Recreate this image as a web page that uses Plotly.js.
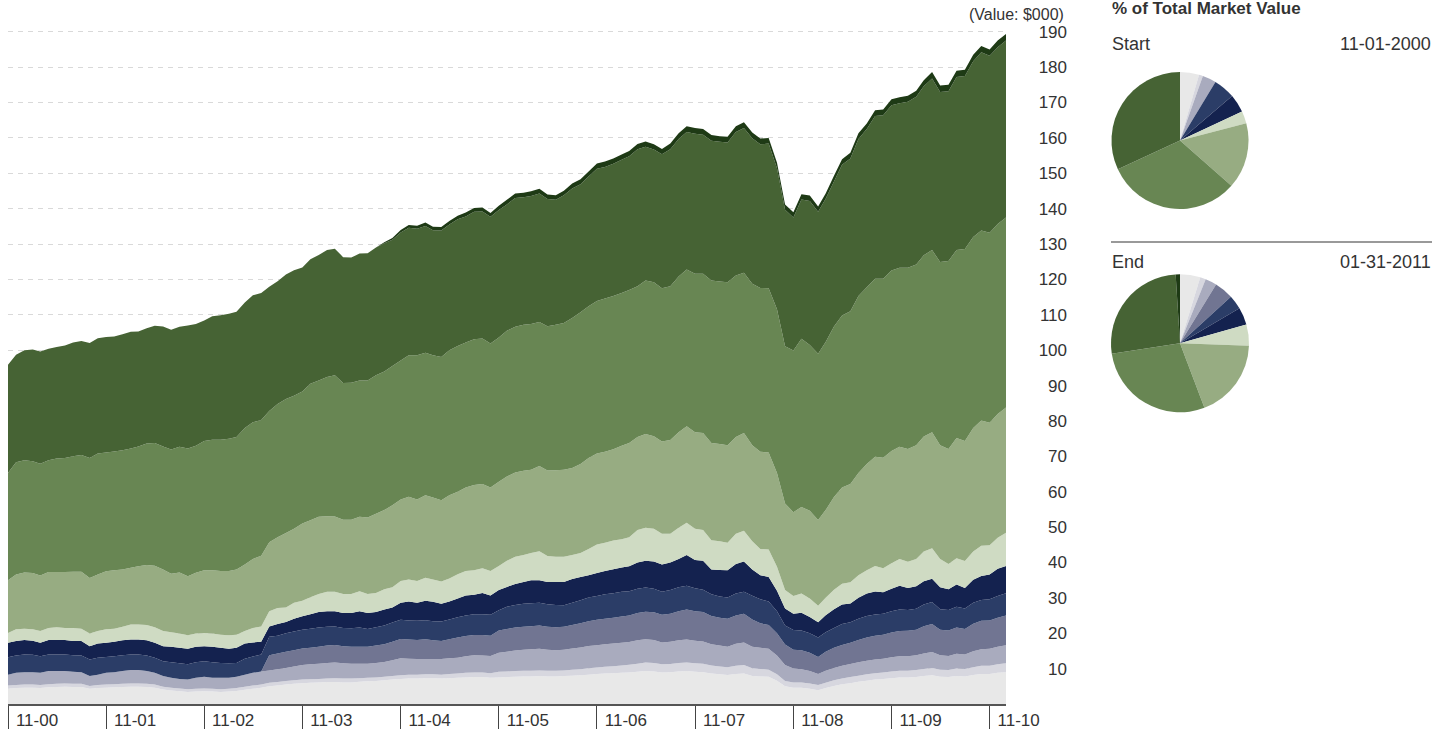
<!DOCTYPE html>
<html>
<head>
<meta charset="utf-8">
<script src="https://cdn.plot.ly/plotly-3.0.1.min.js"></script>
<style>
  html, body { margin: 0; padding: 0; background: #ffffff; }
  #chart { width: 1449px; height: 734px; }
</style>
</head>
<body>
<div id="chart"></div>
<script>
// ---------------- DATA (monthly market value, $000, Nov-2000 .. Jan-2011) ----------------
const startMonth = { year: 2000, month: 11 };
const monthCount = 123;

const tickYears = [2000, 2001, 2002, 2003, 2004, 2005, 2006, 2007, 2008, 2009, 2010];
const yTickValues = [10, 20, 30, 40, 50, 60, 70, 80, 90, 100, 110, 120, 130, 140, 150, 160, 170, 180, 190];

const lightGrey = [
  4.3,4.5,4.6,4.6,4.5,4.7,4.8,4.9,4.8,4.8,
  4.3,4.5,4.6,4.7,4.8,4.9,4.9,4.8,4.6,4.1,
  3.8,3.6,3.4,3.5,3.6,3.5,3.4,3.5,3.7,4.0,
  4.3,4.6,5.0,5.2,5.5,5.7,5.9,6.0,6.1,6.2,
  6.2,6.1,6.1,6.3,6.4,6.5,6.7,6.9,7.1,7.2,
  7.2,7.3,7.3,7.2,7.3,7.4,7.5,7.6,7.6,7.4,
  7.5,7.6,7.7,7.8,7.8,7.9,7.8,7.8,7.9,8.0,
  8.1,8.3,8.5,8.6,8.7,8.8,8.9,9.1,9.3,9.2,
  8.9,9.0,9.2,9.3,9.1,9.0,8.6,8.4,8.2,8.5,
  8.6,7.9,7.8,7.7,6.6,5.0,4.6,4.6,4.3,3.9,
  4.5,5.1,5.6,5.9,6.3,6.6,6.9,7.1,7.3,7.5,
  7.5,7.6,7.9,8.1,7.7,7.6,7.9,7.8,8.2,8.5,
  8.5,8.8,9.0];

const lavender = [
  0.9,0.9,0.9,0.9,0.9,0.9,0.9,0.9,0.9,0.9,
  0.8,0.9,0.9,0.9,0.9,0.9,0.9,0.9,0.9,0.8,
  0.8,0.8,0.8,0.8,0.8,0.8,0.8,0.8,0.8,0.9,
  0.9,0.9,1.0,1.0,1.0,1.0,1.0,1.0,1.0,1.0,
  1.1,1.1,1.1,1.0,1.0,1.0,1.0,1.0,1.0,1.1,
  1.1,1.1,1.1,1.1,1.2,1.2,1.3,1.3,1.3,1.3,
  1.6,1.6,1.6,1.6,1.6,1.6,1.6,1.6,1.6,1.7,
  1.7,1.8,1.8,1.9,2.0,2.1,2.2,2.3,2.4,2.4,
  2.3,2.3,2.4,2.4,2.4,2.4,2.3,2.2,2.2,2.3,
  2.4,2.2,2.1,2.0,1.8,1.5,1.5,1.5,1.5,1.5,
  1.5,1.6,1.6,1.7,1.7,1.8,1.8,1.8,1.9,1.9,
  1.9,2.0,2.0,2.1,2.0,2.0,2.1,2.1,2.2,2.3,
  2.3,2.4,2.5];

const greyBlue = [
  3.1,3.4,3.5,3.5,3.4,3.7,3.6,3.5,3.4,3.3,
  2.8,2.9,3.3,3.4,3.6,3.8,3.8,3.6,3.3,3.0,
  2.8,2.7,2.7,3.1,3.3,3.1,3.2,3.1,3.2,3.4,
  3.6,3.7,3.5,3.6,3.7,3.9,4.1,4.2,4.3,4.4,
  4.4,4.3,4.2,4.1,4.0,4.1,4.2,4.5,4.8,4.5,
  4.4,4.3,4.3,4.4,4.4,4.5,4.7,4.9,4.8,4.9,
  5.4,5.6,5.8,5.9,6.1,6.1,5.9,5.8,5.8,6.0,
  6.2,6.3,6.3,6.4,6.4,6.4,6.4,6.6,6.6,6.5,
  6.2,6.3,6.4,6.5,6.4,6.3,6.0,5.9,5.8,6.2,
  6.4,6.1,6.0,5.9,5.3,4.5,3.9,3.7,3.5,3.1,
  3.4,3.5,3.6,3.7,3.8,3.8,3.9,3.9,4.0,4.1,
  4.1,4.2,4.4,4.5,4.1,4.0,4.2,4.1,4.5,4.7,
  4.8,5.0,5.1];

const slate = [
  0,0,0,0,0,0,0,0,0,0,
  0,0,0,0,0,0,0,0,0,0,
  0,0,0,0,0,0,0,0,0,0,
  0,0,4.3,4.5,4.6,4.6,4.7,4.7,4.8,4.9,
  5.0,4.8,4.8,4.8,4.8,4.9,5.0,5.2,5.5,5.4,
  5.4,5.6,5.3,5.1,5.4,5.7,5.7,5.7,5.8,5.7,
  6.3,6.4,6.5,6.5,6.5,6.6,6.5,6.5,6.5,6.6,
  6.8,7.0,7.2,7.2,7.3,7.4,7.5,7.7,7.8,7.8,
  7.8,7.9,8.2,8.5,8.3,8.3,8.0,7.9,7.9,8.0,
  8.1,7.7,6.9,6.7,6.3,5.8,5.3,5.4,5.2,4.8,
  5.4,5.7,5.9,6.0,6.3,6.6,6.7,6.8,7.0,7.1,
  7.2,7.2,7.7,7.9,7.2,7.2,7.4,7.2,7.8,8.0,
  8.0,8.2,8.4];

const darkBlue = [
  4.9,4.9,5.0,4.9,4.7,4.7,4.7,4.7,4.7,4.7,
  4.7,4.8,4.5,4.5,4.5,4.4,4.4,4.4,4.3,4.2,
  4.4,4.4,4.3,4.4,4.4,4.4,4.2,4.1,3.9,4.5,
  4.6,4.8,5.2,5.0,5.2,5.3,5.3,5.4,5.4,5.3,
  5.2,5.2,5.2,5.4,5.0,5.2,5.3,5.4,5.4,5.4,
  5.4,5.4,5.4,5.5,5.6,5.7,5.8,5.9,5.9,5.9,
  5.7,6.3,6.4,6.5,6.5,6.4,6.4,6.3,6.1,6.3,
  6.5,6.7,6.7,6.9,6.9,7.0,6.9,6.9,6.8,6.7,
  6.5,6.7,6.8,6.7,6.5,6.3,6.1,6.0,6.0,6.2,
  6.2,6.7,6.8,6.7,6.2,5.4,5.6,5.6,5.5,5.5,
  5.5,5.6,5.9,5.8,6.0,6.1,6.0,5.9,6.0,6.1,
  5.9,5.9,6.1,6.2,5.8,5.8,5.9,5.8,5.9,5.9,
  6.0,6.1,6.3];

const navy = [
  4.1,4.1,4.1,4.0,3.8,4.1,4.1,4.1,4.0,4.1,
  3.7,4.0,4.0,4.1,4.2,4.2,4.2,4.3,4.2,4.2,
  4.4,4.4,4.4,4.4,4.2,4.4,4.3,4.1,4.3,4.3,
  4.0,3.6,2.9,3.3,3.2,3.6,3.8,4.1,4.4,4.4,
  4.3,4.2,4.3,4.6,4.5,4.3,4.5,4.3,4.8,5.4,
  5.1,5.5,5.5,5.0,5.1,5.3,5.7,5.5,6.0,5.5,
  5.7,5.6,5.9,6.2,6.5,6.4,6.3,6.5,6.6,6.7,
  6.6,6.3,6.5,6.6,6.8,6.9,7.0,7.4,7.6,7.7,
  7.7,7.8,8.0,8.7,8.0,8.2,7.0,7.5,7.7,8.4,
  8.6,7.4,6.8,6.9,5.8,4.8,4.6,5.0,4.6,4.3,
  4.8,5.3,5.5,5.3,5.9,6.3,6.5,6.1,6.4,6.7,
  6.2,6.4,6.6,6.6,6.2,5.8,6.3,5.8,6.5,6.8,
  7.0,7.7,7.7];

const paleGreen = [
  2.8,3.3,3.2,3.2,3.3,3.4,3.6,3.4,3.7,3.5,
  3.6,3.5,3.8,3.7,3.8,4.3,4.3,4.3,4.4,4.3,
  4.1,4.0,3.8,3.7,3.8,3.7,3.7,3.8,3.7,3.5,
  4.1,4.3,4.3,4.5,4.1,4.5,4.4,4.8,5.1,5.5,
  5.5,5.4,5.4,5.7,5.4,5.4,5.7,5.7,6.2,6.2,
  6.2,6.5,6.3,6.3,6.5,6.9,6.9,6.9,7.0,6.9,
  6.8,7.4,7.7,7.6,7.7,8.2,7.3,7.1,7.1,6.8,
  6.8,7.4,8.1,8.0,8.1,8.0,8.2,9.2,9.3,9.2,
  8.7,8.1,8.8,9.1,8.8,8.7,8.3,8.1,7.8,8.5,
  8.7,8.0,7.4,7.8,6.8,5.2,5.0,5.4,5.2,4.7,
  4.9,5.5,5.9,6.0,6.4,6.6,7.2,6.8,7.2,7.6,
  7.4,7.7,8.4,8.6,8.0,7.2,7.4,7.6,8.0,8.5,
  8.3,8.8,9.4];

const lightGreen = [
  14.9,15.5,15.9,15.9,15.7,15.8,15.6,15.8,15.9,16.1,
  15.7,16.0,16.4,16.5,16.2,16.0,16.4,17.0,17.4,17.4,
  16.5,17.3,16.7,17.2,17.7,17.9,18.0,18.2,18.4,18.8,
  19.5,20.0,19.5,20.0,21.0,20.9,21.8,21.7,21.8,21.4,
  21.3,21.0,21.0,21.0,21.6,22.4,22.4,23.2,23.0,23.4,
  23.0,23.3,23.2,23.0,23.5,23.3,23.6,24.1,23.8,23.6,
  23.8,23.8,23.8,23.8,23.5,24.1,24.2,24.5,24.6,24.6,
  25.1,25.7,25.7,25.7,25.8,26.4,26.7,26.3,26.5,26.2,
  26.1,26.5,27.0,27.3,27.3,27.4,27.5,27.5,27.5,27.4,
  27.6,27.1,27.5,27.4,26.5,24.5,23.7,24.5,24.8,24.2,
  24.8,26.2,27.2,27.8,28.9,30.0,30.9,31.2,31.7,31.7,
  31.9,32.1,32.5,32.8,32.1,32.5,34.0,33.9,34.9,35.4,
  34.6,35.0,35.4];

const midGreen = [
  30.3,31.7,31.7,31.6,31.6,31.6,32.1,32.2,32.6,33.0,
  33.9,34.2,33.6,33.6,33.7,33.7,33.9,34.3,34.7,34.8,
  35.1,35.5,36.1,35.9,36.5,36.9,37.1,37.4,37.5,38.6,
  38.6,38.4,37.1,37.7,37.9,37.6,37.3,38.6,38.5,39.3,
  39.9,38.6,38.7,38.5,38.7,39.1,39.2,39.3,39.3,40.0,
  40.8,40.3,40.2,40.5,41.0,41.2,41.0,41.2,41.1,40.7,
  40.8,41.2,41.2,41.3,41.2,40.7,40.8,41.1,41.5,42.4,
  42.9,42.9,43.1,43.3,43.3,43.2,43.2,42.6,43.4,43.5,
  43.3,43.5,44.0,44.3,44.8,45.0,45.9,45.9,46.1,45.6,
  45.3,45.7,46.3,46.4,46.3,44.4,45.7,47.5,46.9,47.0,
  47.5,48.2,48.6,48.8,50.0,50.0,50.3,50.6,51.0,50.6,
  51.2,51.1,51.2,51.5,51.8,53.1,53.1,54.3,54.0,53.7,
  53.7,53.7,53.7];

const darkGreen = [
  30.6,30.4,31.1,31.6,31.7,31.5,31.5,31.8,32.2,32.2,
  32.5,32.6,32.6,32.5,32.8,33.0,32.5,32.6,33.1,33.9,
  33.9,33.9,34.8,34.4,34.1,34.9,35.2,35.3,35.4,35.5,
  35.9,35.9,35.1,34.7,35.2,35.5,35.1,35.2,35.5,35.9,
  35.8,35.6,35.4,35.9,36.0,36.1,36.2,35.7,36.2,36.0,
  35.7,35.8,35.3,35.7,35.5,35.8,35.6,36.0,35.9,35.8,
  36.0,35.7,36.4,36.0,36.2,36.3,35.9,35.3,36.1,36.6,
  36.2,36.7,37.4,37.2,37.4,37.6,37.8,38.7,37.8,37.5,
  37.9,38.7,38.9,38.9,39.6,39.3,39.5,39.5,39.5,40.6,
  40.9,41.1,40.6,40.9,39.8,38.6,37.6,39.4,40.7,40.1,
  40.5,41.0,42.6,43.2,44.4,44.7,46.0,46.2,46.7,46.5,
  46.9,47.4,47.8,48.5,48.1,48.0,48.9,48.9,49.7,50.4,
  50.0,49.9,50.0];

const deepGreen = [
  0,0,0,0,0,0,0,0,0,0,
  0,0,0,0,0,0,0,0,0,0,
  0,0,0,0,0,0,0,0,0,0,
  0,0,0,0,0,0,0,0,0,0,
  0,0,0,0,0,0,0.3,0.5,0.7,0.8,
  0.9,1.0,1.0,1.0,1.0,1.0,1.1,1.1,1.1,1.1,
  1.2,1.3,1.3,1.3,1.3,1.3,1.3,1.3,1.3,1.4,
  1.4,1.4,1.5,1.5,1.5,1.5,1.5,1.5,1.5,1.5,
  1.5,1.6,1.6,1.6,1.6,1.6,1.6,1.6,1.6,1.6,
  1.6,1.6,1.6,1.6,1.6,1.5,1.5,1.5,1.5,1.5,
  1.5,1.6,1.6,1.6,1.6,1.6,1.6,1.6,1.7,1.7,
  1.7,1.7,1.7,1.8,1.8,1.8,1.8,1.8,1.8,1.8,
  1.8,1.9,1.9];

// ---------------- STYLE ----------------
const series = [
  { name: 'lightGrey',  y: lightGrey,  color: '#e8e8e8' },
  { name: 'lavender',   y: lavender,   color: '#d7d7df' },
  { name: 'greyBlue',   y: greyBlue,   color: '#a9abbe' },
  { name: 'slate',      y: slate,      color: '#717592' },
  { name: 'darkBlue',   y: darkBlue,   color: '#2b3d67' },
  { name: 'navy',       y: navy,       color: '#14224f' },
  { name: 'paleGreen',  y: paleGreen,  color: '#cfdbc3' },
  { name: 'lightGreen', y: lightGreen, color: '#97ac82' },
  { name: 'midGreen',   y: midGreen,   color: '#688653' },
  { name: 'darkGreen',  y: darkGreen,  color: '#466334' },
  { name: 'deepGreen',  y: deepGreen,  color: '#1e3a15' }
];

series.forEach(s => { if (s.y.length !== monthCount) throw new Error(s.name + ' has ' + s.y.length + ' values'); });

const months = [];
for (let i = 0; i < monthCount; i++) {
  const m0 = startMonth.month - 1 + i;
  const yr = startMonth.year + Math.floor(m0 / 12);
  const mo = (m0 % 12) + 1;
  months.push(yr + '-' + String(mo).padStart(2, '0') + '-01');
}
const tickVals = tickYears.map(y => y + '-11-01');
const tickText = tickYears.map(y => '11-' + String(y).slice(2));

const FONT = 'Liberation Sans Narrow, Arial Narrow, Liberation Sans, sans-serif';
const W = 1449, H = 734;
const M = { l: 8, r: 0, t: 30, b: 30 };
const PW = W - M.l - M.r, PH = H - M.t - M.b;
const px = x => (x - M.l) / PW;
const py = y => (H - M.b - y) / PH;

const traces = series.map(s => ({
  type: 'scatter', x: months, y: s.y, name: s.name,
  stackgroup: 'one', mode: 'none', fillcolor: s.color,
  hoverinfo: 'skip', showlegend: false
}));

function pieTrace(idx, cx, cy, r) {
  return {
    type: 'pie',
    values: series.map(s => s.y[idx]),
    labels: series.map(s => s.name),
    marker: { colors: series.map(s => s.color), line: { width: 0 } },
    sort: false, direction: 'clockwise', rotation: 0,
    textinfo: 'none', hoverinfo: 'skip', showlegend: false,
    domain: { x: [px(cx - r), px(cx + r)], y: [py(cy + r), py(cy - r)] }
  };
}
traces.push(pieTrace(0, 1180, 140.5, 68.5));
traces.push(pieTrace(monthCount - 1, 1180, 343.3, 69));

function label(text, x, y, anchor, size, bold) {
  return {
    text: bold ? '<b>' + text + '</b>' : text,
    xref: 'paper', yref: 'paper', x: px(x), y: py(y),
    xanchor: anchor, yanchor: 'middle', showarrow: false,
    font: { family: FONT, size: size, color: '#333333' }
  };
}

const layout = {
  width: W, height: H, margin: M,
  paper_bgcolor: '#ffffff', plot_bgcolor: '#ffffff',
  showlegend: false,
  xaxis: {
    type: 'date', domain: [0, px(1006)],
    range: [months[0], months[monthCount - 1]],
    tickmode: 'array', tickvals: tickVals, ticktext: tickText,
    ticks: 'outside', ticklen: 23, tickwidth: 1, tickcolor: '#444444',
    showline: true, linecolor: '#555555', linewidth: 1.5,
    showgrid: false, zeroline: false,
    tickfont: { family: FONT, size: 17, color: '#333333' },
    ticklabelshift: 29, ticklabelstandoff: -23
  },
  yaxis: {
    range: [0, 190.5], tickmode: 'array', tickvals: yTickValues,
    anchor: 'free', position: px(1067), side: 'left',
    showgrid: true, gridcolor: '#d9d9d9', gridwidth: 1, griddash: '5px,5px',
    showline: false, zeroline: false, ticks: '',
    tickfont: { family: FONT, size: 17, color: '#333333' }
  },
  annotations: [
    label('(Value: $000)', 1066, 14, 'right', 16, false),
    label('% of Total Market Value', 1110, 8, 'left', 17, true),
    label('Start', 1110, 44, 'left', 18, false),
    label('11-01-2000', 1433, 44, 'right', 18, false),
    label('End', 1110, 262, 'left', 18, false),
    label('01-31-2011', 1433, 262, 'right', 18, false)
  ],
  shapes: [{
    type: 'line', xref: 'paper', yref: 'paper',
    x0: px(1111), x1: px(1432), y0: py(242), y1: py(242),
    line: { color: '#777777', width: 1.5 }
  }]
};

Plotly.newPlot('chart', traces, layout, { staticPlot: true, displayModeBar: false });
</script>
</body>
</html>
